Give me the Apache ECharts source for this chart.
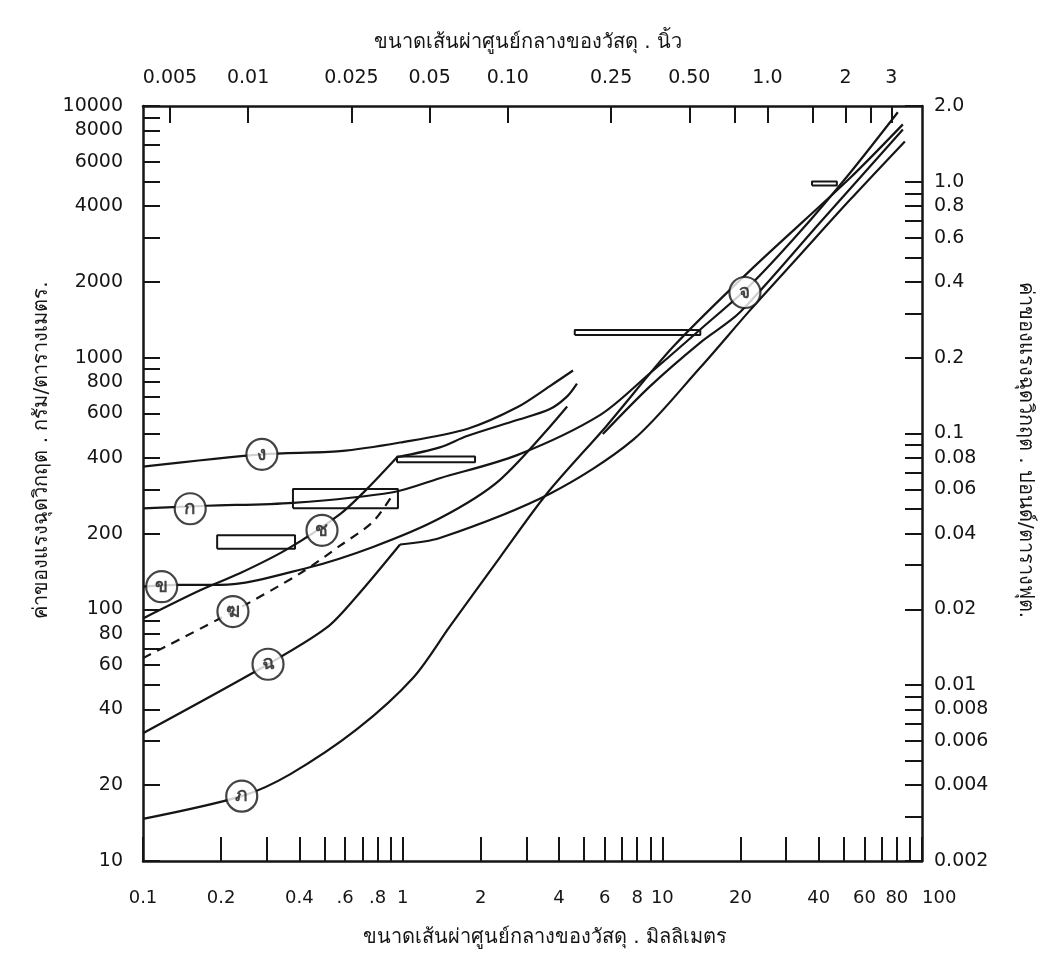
<!DOCTYPE html>
<html>
<head>
<meta charset="utf-8">
<title>Critical tractive force vs. grain size</title>
<script src="https://cdn.jsdelivr.net/npm/echarts@6.0.0/dist/echarts.min.js"></script>
<style>
    html, body { margin: 0; padding: 0; background: #fff; }
    #chart { width: 1053px; height: 959px; }
</style>
</head>
<body>
<div id="chart"></div>
<script>
// Critical tractive force chart, log-log
// x = mean diameter (mm), y = tractive force (g/m2)

const curveNgo = [[0.1, 369], [0.287, 413], [0.574, 425], [0.977, 460], [1.77, 521], [2.76, 635], [3.69, 771], [4.53, 889]];
const curveKo = [[0.1, 252], [0.176, 258], [0.378, 265], [0.918, 292], [1.39, 332], [2.76, 410], [5.75, 591], [8.96, 867], [14.0, 1294], [21.7, 1931], [33.9, 3162], [52.7, 5408], [80.7, 9448]];
const curveKhai = [[0.1, 123], [0.135, 125], [0.198, 125], [0.428, 146], [0.769, 177], [1.39, 230], [2.37, 327], [4.30, 640]];
const curveKhon = [[0.1, 64], [0.222, 98], [0.403, 139], [0.574, 179], [0.769, 223], [0.918, 287]];
const curveChoLow = [[0.1, 92], [0.166, 119], [0.236, 139], [0.358, 173], [0.574, 239], [0.729, 301], [0.951, 402]];
const curveChoHigh = [[0.951, 402], [1.39, 440], [1.77, 488], [2.76, 565], [3.69, 625], [4.30, 702], [4.69, 789]];
const curveChingLow = [[0.1, 32.2], [0.303, 60.5], [0.511, 84.7], [0.667, 113], [0.977, 181]];
const curveChingHigh = [[0.977, 181], [1.39, 192], [3.69, 288], [7.71, 471], [14.0, 914], [21.7, 1538], [33.9, 2558], [52.7, 4227], [85.9, 7230]];
const curvePho = [[0.1, 14.7], [0.240, 18.1], [0.368, 22.1], [0.667, 33.4], [1.10, 53.6], [1.52, 85.5], [2.37, 161], [3.59, 288], [6.12, 538], [11.0, 1104], [21.7, 2213], [52.7, 5164], [84.4, 8453]];
const curveJo = [[5.90, 497], [8.96, 769], [14.0, 1148], [19.9, 1514], [40.5, 3444], [84.4, 8072]];

// range boxes: [x from, x to, y from, y to]
const rangeBoxes = [
    [0.193, 0.385, 174, 197],
    [0.378, 0.959, 252, 301],
    [0.951, 1.90, 384, 405],
    [4.6, 14.0, 1230, 1288],
    [37.7, 47.0, 4830, 5010]
];

// circled curve letters
const curveLabels = [
    { text: 'ง', x: 0.287, y: 413 },
    { text: 'ก', x: 0.152, y: 251 },
    { text: 'ข', x: 0.118, y: 123 },
    { text: 'ฆ', x: 0.222, y: 98 },
    { text: 'ช', x: 0.489, y: 206 },
    { text: 'ฉ', x: 0.303, y: 60.5 },
    { text: 'ภ', x: 0.240, y: 18.1 },
    { text: 'จ', x: 20.8, y: 1815 }
];

// axis tick labels
const mmLabels = ['0.1', '0.2', '0.4', '.6', '.8', '1', '2', '4', '6', '8', '10', '20', '40', '60', '80', '100'];
const gramLabels = ['10', '20', '40', '60', '80', '100', '200', '400', '600', '800', '1000', '2000', '4000', '6000', '8000', '10000'];
const inchLabels = ['0.005', '0.01', '0.025', '0.05', '0.10', '0.25', '0.50', '1.0', '2', '3'];
const inchTicks = [0.005, 0.01, 0.025, 0.05, 0.1, 0.25, 0.5, 0.75, 1, 1.5, 2, 2.5, 3];
const poundLabels = ['0.002', '0.004', '0.006', '0.008', '0.01', '0.02', '0.04', '0.06', '0.08', '0.1', '0.2', '0.4', '0.6', '0.8', '1.0', '2.0'];

const lg = Math.log10;
const INK = '#151515';
const FONT = "'DejaVu Sans', 'Noto Sans', sans-serif";

const toLog = pts => pts.map(p => [lg(p[0]), lg(p[1])]);

// 1..9 x 10^k ticks between two powers of ten
function decadeTicks(fromExp, toExp) {
    const out = [];
    for (let e = fromExp; e < toExp; e++) {
        for (let m = 1; m < 10; m++) out.push(lg(m * Math.pow(10, e)));
    }
    out.push(toExp);
    return out;
}

// label text lookup keyed by log value
function labelFormatter(labels) {
    const map = {};
    labels.forEach(s => { map[lg(parseFloat(s)).toFixed(5)] = s; });
    return v => map[v.toFixed(5)] || '';
}

function axisBase(labels, ticks, margin, tickLen) {
    return {
        type: 'value',
        axisLine: { show: true, onZero: false, lineStyle: { color: INK, width: 2.5 } },
        axisTick: { show: true, inside: true, length: tickLen || 17, lineStyle: { color: INK, width: 2 }, customValues: ticks },
        axisLabel: {
            customValues: labels.map(s => lg(parseFloat(s))),
            formatter: labelFormatter(labels),
            showMinLabel: true,
            showMaxLabel: true,
            hideOverlap: false,
            color: INK, fontSize: 19, fontFamily: FONT, margin: margin
        },
        splitLine: { show: false }
    };
}

function curve(pts, extra) {
    return Object.assign({
        type: 'line',
        data: toLog(pts),
        symbol: 'none',
        smooth: 0.3,
        silent: true,
        z: 2,
        lineStyle: { color: INK, width: 2.2 }
    }, extra || {});
}

function box(r) {
    const pts = [[r[0], r[2]], [r[1], r[2]], [r[1], r[3]], [r[0], r[3]], [r[0], r[2]]];
    return { type: 'line', data: toLog(pts), symbol: 'none', silent: true, z: 2, lineStyle: { color: INK, width: 2 } };
}

const series = [
    curve(curveNgo),
    curve(curveKo),
    curve(curveKhai),
    curve(curveKhon, { lineStyle: { color: INK, width: 2.2, type: [9, 7] } }),
    curve(curveChoLow),
    curve(curveChoHigh),
    curve(curveChingLow),
    curve(curveChingHigh),
    curve(curvePho),
    curve(curveJo)
].concat(rangeBoxes.map(box));

series.push({
    type: 'scatter',
    z: 5,
    silent: true,
    symbol: 'circle',
    symbolSize: 31,
    itemStyle: { color: '#fff', borderColor: INK, borderWidth: 2.2 },
    label: { show: true, position: 'inside', formatter: '{b}', color: INK, fontSize: 19, fontWeight: 'bold' },
    data: curveLabels.map(l => ({ name: l.text, value: [lg(l.x), lg(l.y)] }))
});

const mmToInch = 1 / 25.4;

// bottom axis: the "100" label sits just past the corner, as in the original
const mmAxis = axisBase(mmLabels, decadeTicks(-1, 2), 28, 24);
mmAxis.axisLabel.alignMaxLabel = 'left';
mmAxis.axisLabel.fontSize = 18;

const chart = echarts.init(document.getElementById('chart'));

chart.setOption({
    animation: false,
    backgroundColor: '#fff',
    grid: { left: 143, right: 131, top: 106, bottom: 98 },
    xAxis: [
        Object.assign(mmAxis, { position: 'bottom', min: -1, max: 2 }),
        Object.assign(axisBase(inchLabels, inchTicks.map(lg), 18), {
            position: 'top',
            min: lg(0.1 * mmToInch),
            max: lg(100 * mmToInch)
        })
    ],
    yAxis: [
        Object.assign(axisBase(gramLabels, decadeTicks(1, 4), 20), { position: 'left', min: 1, max: 4 }),
        Object.assign(axisBase(poundLabels, decadeTicks(-3, 1).filter(v => v >= lg(0.002) - 1e-9 && v <= lg(2) + 1e-9), 12), {
            position: 'right',
            min: lg(0.002),
            max: lg(2)
        })
    ],
    graphic: [
        { type: 'text', x: 528, y: 43, style: { text: 'ขนาดเส้นผ่าศูนย์กลางของวัสดุ . นิ้ว', font: '20px ' + FONT, fill: INK, align: 'center', verticalAlign: 'middle' } },
        { type: 'text', x: 545, y: 938, style: { text: 'ขนาดเส้นผ่าศูนย์กลางของวัสดุ . มิลลิเมตร', font: '20px ' + FONT, fill: INK, align: 'center', verticalAlign: 'middle' } },
        { type: 'text', x: 42, y: 450, rotation: Math.PI / 2, style: { text: 'ค่าของแรงฉุดวิกฤต . กรัม/ตารางเมตร.', font: '20px ' + FONT, fill: INK, align: 'center', verticalAlign: 'middle' } },
        { type: 'text', x: 1025, y: 450, rotation: -Math.PI / 2, style: { text: 'ค่าของแรงฉุดวิกฤต . ปอนด์/ตารางฟุต.', font: '20px ' + FONT, fill: INK, align: 'center', verticalAlign: 'middle' } }
    ],
    series: series
});
</script>
</body>
</html>
